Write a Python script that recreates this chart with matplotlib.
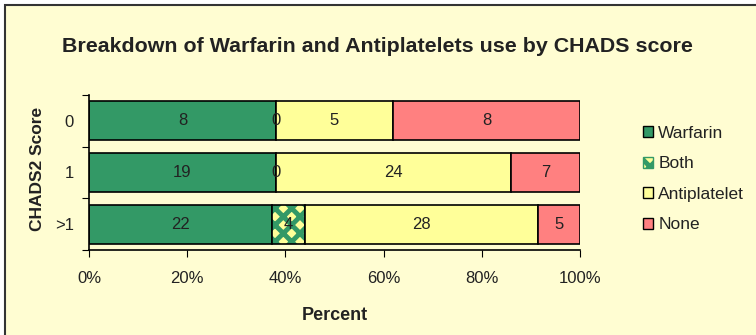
import numpy as np
import matplotlib.pyplot as plt
from matplotlib.patches import Rectangle, Patch

# CHADS2 categories, top to bottom
scores = ['0', '1', '>1']
warfarin = [8, 19, 22]
both = [0, 0, 4]
antiplatelet = [5, 24, 28]
none = [8, 7, 5]
x_ticks = [0, 20, 40, 60, 80, 100]

series = [('Warfarin', warfarin), ('Both', both), ('Antiplatelet', antiplatelet), ('None', none)]
colors = {'Warfarin': '#339966', 'Both': '#FFFF99', 'Antiplatelet': '#FFFF99', 'None': '#FF8080'}
bg = '#FFFDD2'
txt = '#222222'

plt.rcParams['font.family'] = ['Liberation Sans', 'DejaVu Sans']
plt.rcParams['hatch.linewidth'] = 3.5

fig = plt.figure(figsize=(7.56, 3.35), dpi=100)
fig.patch.set_facecolor('white')
# chart area background with border (cropped at right/bottom)
fig.patches.append(Rectangle((5 / 756, -0.1), 1.2, 1 - 5 / 335 + 0.1, transform=fig.transFigure,
                             facecolor=bg, edgecolor='#333333', linewidth=1.5, zorder=-5))

ax = fig.add_axes([89 / 756, 85 / 335, 491 / 756, 155 / 335])
ax.set_facecolor('none')

totals = np.sum([np.array(v) for _, v in series], axis=0)
y = np.arange(len(scores))
left = np.zeros(len(scores))
for name, vals in series:
    vals = np.array(vals)
    pct = vals / totals * 100
    if name == 'Both':
        bars = ax.barh(y, pct, left=left, height=0.75, facecolor=colors[name],
                       edgecolor='#339966', hatch='xx', linewidth=0)
        ax.barh(y, pct, left=left, height=0.75, fill=False, edgecolor='black', linewidth=1.2)
    else:
        bars = ax.barh(y, pct, left=left, height=0.75, color=colors[name],
                       edgecolor='black', linewidth=1.2)
    ax.bar_label(bars, labels=[str(v) for v in vals], label_type='center',
                 fontsize=12, color=txt)
    left += pct

ax.set_xlim(0, 100)
ax.set_ylim(len(scores) - 0.5, -0.5)
ax.set_xticks(x_ticks)
ax.set_xticklabels([f'{t}%' for t in x_ticks], fontsize=12, color=txt)
ax.set_yticks(np.arange(len(scores) + 1) - 0.5)
ax.set_yticklabels([])
ax.set_yticks(y, minor=True)
ax.set_yticklabels(scores, minor=True, fontsize=12, color=txt)
ax.tick_params(axis='y', which='minor', length=0, pad=11)
ax.tick_params(axis='y', which='major', length=5, direction='out')
ax.tick_params(axis='x', length=5, direction='out', pad=10)
for s in ['top', 'right']:
    ax.spines[s].set_visible(False)
ax.spines['left'].set_linewidth(1.2)
ax.spines['bottom'].set_linewidth(1.2)

ax.set_xlabel('Percent', fontsize=13, fontweight='bold', labelpad=15, color=txt)
ax.set_ylabel('CHADS2 Score', fontsize=12.5, fontweight='bold', color=txt)
ax.yaxis.set_label_coords((45 - 89) / 491, 0.52)
fig.text(377 / 756, 1 - 47 / 335, 'Breakdown of Warfarin and Antiplatelets use by CHADS score',
         ha='center', va='center', fontsize=15.4, fontweight='bold', color=txt)

handles = [Patch(facecolor='#339966', edgecolor='black'),
           Patch(facecolor='#FFFF99', edgecolor='#339966', hatch='xx'),
           Patch(facecolor='#FFFF99', edgecolor='black'),
           Patch(facecolor='#FF8080', edgecolor='black')]
fig.legend(handles, [n for n, _ in series], loc='center left', bbox_to_anchor=(627 / 756, 1 - 179 / 335),
           frameon=False, fontsize=12.5, handlelength=0.6, handleheight=0.6, handletextpad=0.3,
           labelspacing=0.9, labelcolor=txt)

fig.savefig('out.png', dpi=100, facecolor=fig.get_facecolor())
